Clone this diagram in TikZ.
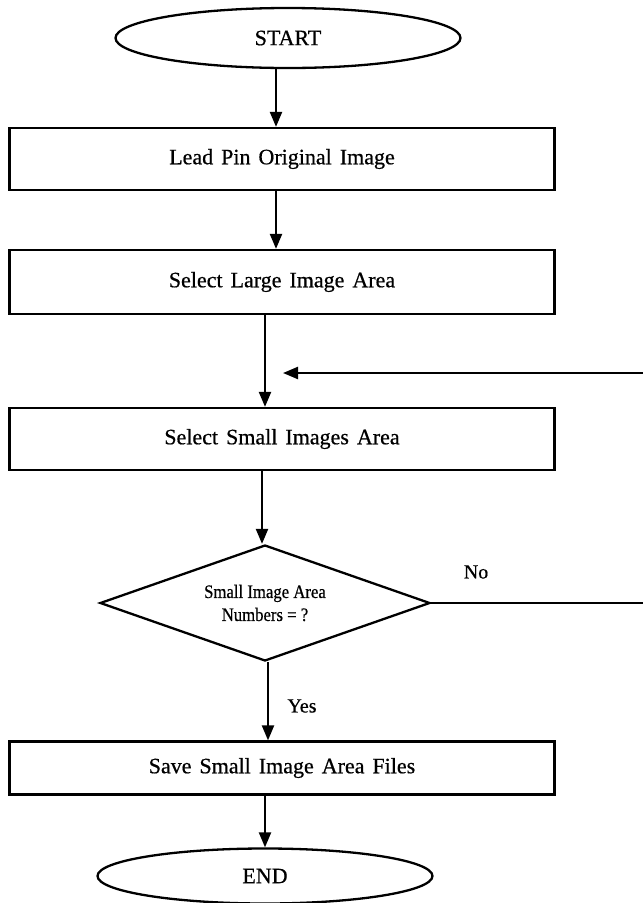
\documentclass[tikz,border=0pt]{standalone}
\usepackage{fontspec}
\setmainfont{Liberation Serif}[WordSpace=1.45,FakeBold=0.6]
\newfontfamily\smallfont{Liberation Serif}[FakeStretch=0.88,FakeBold=0.6]
\usetikzlibrary{shapes.geometric,arrows.meta}
\begin{document}
\begin{tikzpicture}[x=1pt,y=-1pt,
  every node/.style={font=\fontsize{22}{26}\selectfont},
  bord/.style={draw,line width=2.3pt},
  term/.style={bord,ellipse,inner sep=0pt},
  procbox/.style={bord,rectangle,minimum width=545pt,inner sep=0pt},
  decide/.style={bord,diamond,aspect=2.9,inner sep=0pt,minimum width=330pt,minimum height=116pt,
     font=\smallfont\fontsize{19}{23}\selectfont,align=center},
  arr/.style={line width=2.3pt,-{Triangle[length=15pt,width=12pt]}},
  lbl/.style={font=\fontsize{20}{23}\selectfont}]
\useasboundingbox (0,0) rectangle (643,903);
\node[term,minimum width=345pt,minimum height=60pt] (start) at (288,38) {START};
\node[procbox,minimum height=62pt] (lead) at (282,159) {Lead Pin Original Image};
\node[procbox,minimum height=64pt] (large) at (282,282) {Select Large Image Area};
\node[procbox,minimum height=62pt] (small) at (282,439) {Select Small Images Area};
\node[decide] (dec) at (265,603) {Small Image Area\\Numbers = ?};
\node[procbox,minimum height=53pt] (save) at (282,768) {Save Small Image Area Files};
\node[term,minimum width=335pt,minimum height=55pt] (end) at (265,876) {END};
\coordinate (c1) at (276,0);
\coordinate (c2) at (276,0);
\coordinate (c3) at (265,0);
\coordinate (c4) at (262,0);
\coordinate (c5) at (268,0);
\coordinate (c6) at (265,0);
\coordinate (fbR) at (643,373);
\coordinate (fbL) at (283,373);
\coordinate (noR) at (643,603);
\draw[arr] (c1 |- start.south) -- (c1 |- lead.north);
\draw[arr] (c2 |- lead.south) -- (c2 |- large.north);
\draw[arr] (c3 |- large.south) -- (c3 |- small.north);
\draw[arr] (fbR) -- (fbL);
\draw[arr] (c4 |- small.south) -- (c4 |- dec.north);
\draw[line width=2.3pt] (dec.east) -- (noR);
\node[lbl] (no) at (476,572) {No};
\draw[arr] (c5 |- dec.south) -- (c5 |- save.north);
\node[lbl] (yes) at (302,706) {Yes};
\draw[arr] (c6 |- save.south) -- (c6 |- end.north);
\end{tikzpicture}
\end{document}
